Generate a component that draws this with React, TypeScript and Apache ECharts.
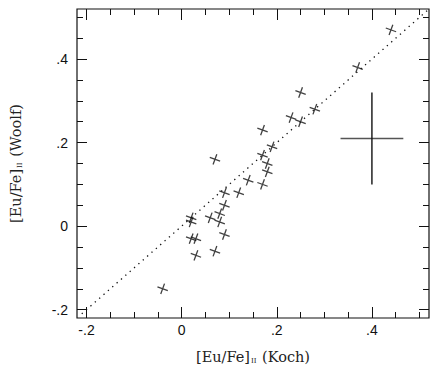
import React, { useEffect, useRef } from "react";
import * as echarts from "echarts";

// Data: [Eu/Fe]II Koch (x) vs Woolf (y)
const kochValues = [0.44, 0.37, 0.25, 0.28, 0.23, 0.25, 0.17, 0.19, 0.17, 0.18, 0.18, 0.17, 0.14, 0.12, 0.07, 0.09, 0.09, 0.08, 0.06, 0.08, 0.09, 0.07, 0.02, 0.02, 0.02, 0.03, 0.03, -0.04];
const woolfValues = [0.47, 0.38, 0.32, 0.28, 0.26, 0.25, 0.23, 0.19, 0.17, 0.15, 0.13, 0.10, 0.11, 0.08, 0.16, 0.08, 0.05, 0.03, 0.02, 0.01, -0.02, -0.06, 0.02, 0.01, -0.03, -0.03, -0.07, -0.15];

// axis range and ticks
const axisRange = [-0.22, 0.52];
const majorTicks = [-0.2, 0, 0.2, 0.4];
const minorTicks = [-0.15, -0.1, -0.05, 0.05, 0.1, 0.15, 0.25, 0.3, 0.35, 0.45, 0.5];

// 1:1 line extent
const oneToOneExtent = [-0.21, 0.52];

// typical error bar
const errorCenter = [0.4, 0.21];
const errorX = 0.066;
const errorY = 0.11;

const fmt = (v: number) => {
  if (Math.abs(v) < 1e-9) return "0";
  const s = v.toFixed(1);
  return s.replace("0.", ".");
};

const markerPath = "path://M0,5L10,5M5,0L5,10";

function makeAxes(kind: "x" | "y", name: string) {
  const positions = kind === "x" ? ["bottom", "top"] : ["left", "right"];
  const axes: any[] = [];
  positions.forEach((pos, pi) => {
    // major
    axes.push({
      type: "value",
      position: pos,
      min: axisRange[0],
      max: axisRange[1],
      name: pi === 0 ? name : "",
      nameLocation: "middle",
      nameGap: kind === "x" ? 31 : 54,
      nameRotate: kind === "y" ? 90 : 0,
      nameTextStyle: {
        fontFamily: "DejaVu Serif",
        fontSize: 14.5,
        color: "#222",
        rich: {
          sub: { fontSize: 7, fontFamily: "DejaVu Serif", color: "#222", verticalAlign: "bottom", padding: [6, 1, 0, 1] },
        },
      },
      splitLine: { show: false },
      axisLine: { show: false, onZero: false },
      axisTick: {
        show: true,
        inside: true,
        length: kind === "x" ? 11 : 10,
        customValues: majorTicks,
        lineStyle: { color: "#111", width: 1 },
      },
      axisLabel: {
        show: pi === 0,
        customValues: majorTicks,
        formatter: fmt,
        fontFamily: "Liberation Sans",
        fontSize: 14,
        color: "#111",
        margin: kind === "x" ? 5 : 9,
      },
    });
    // minor
    axes.push({
      type: "value",
      position: pos,
      min: axisRange[0],
      max: axisRange[1],
      splitLine: { show: false },
      axisLine: { show: false, onZero: false },
      axisTick: {
        show: true,
        inside: true,
        length: 6,
        customValues: minorTicks,
        lineStyle: { color: "#111", width: 1 },
      },
      axisLabel: { show: false },
    });
  });
  return axes;
}

export default function App() {
  const ref = useRef<HTMLDivElement>(null);
  useEffect(() => {
    if (!ref.current) return;
    const chart = echarts.init(ref.current, undefined, { renderer: "svg" });
    const points = kochValues.map((x, i) => [x, woolfValues[i]]);
    chart.setOption({
      animation: false,
      backgroundColor: "#fff",
      grid: {
        left: 72,
        right: 7,
        top: 9,
        bottom: 64,
        show: true,
        borderColor: "#111",
        borderWidth: 1.2,
        backgroundColor: "transparent",
      },
      xAxis: makeAxes("x", "[Eu/Fe]{sub|II} (Koch)"),
      yAxis: makeAxes("y", "[Eu/Fe]{sub|II} (Woolf)"),
      series: [
        {
          type: "line",
          data: oneToOneExtent.map((v) => [v, v]),
          symbol: "none",
          lineStyle: { color: "#111", width: 1.3, type: [1.3, 4.5] },
          silent: true,
        },
        {
          type: "line",
          data: [
            [errorCenter[0] - errorX, errorCenter[1]],
            [errorCenter[0] + errorX, errorCenter[1]],
          ],
          symbol: "none",
          lineStyle: { color: "#555", width: 1.5 },
          silent: true,
        },
        {
          type: "line",
          data: [
            [errorCenter[0], errorCenter[1] - errorY],
            [errorCenter[0], errorCenter[1] + errorY],
          ],
          symbol: "none",
          lineStyle: { color: "#111", width: 1.4 },
          silent: true,
        },
        {
          type: "scatter",
          data: points,
          symbol: markerPath,
          symbolSize: 11,
          symbolRotate: -20,
          itemStyle: { color: "rgba(0,0,0,0)", borderColor: "#111", borderWidth: 1.3 },
        },
      ],
    });
    return () => chart.dispose();
  }, []);
  return (
    <div
      ref={ref}
      style={{ position: "fixed", left: 0, top: 0, width: 436, height: 382, background: "#fff" }}
    />
  );
}
